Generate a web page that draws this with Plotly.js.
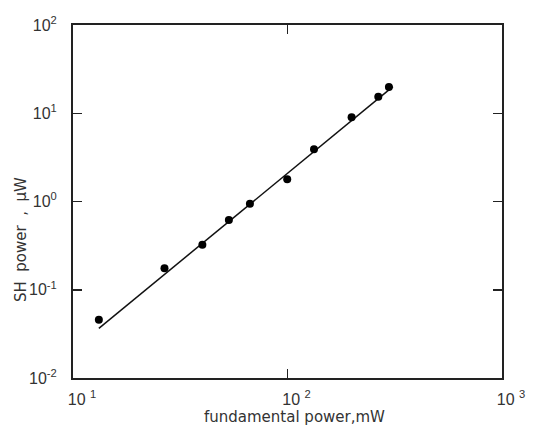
<!DOCTYPE html>
<html>
<head>
<meta charset="utf-8">
<script src="https://cdn.plot.ly/plotly-3.0.1.min.js"></script>
<style>html,body{margin:0;padding:0;background:#fff;}#chart{width:535px;height:430px;}</style>
</head>
<body>
<div id="chart"></div>
<script>
// Measured data: fundamental power (mW) vs SH power (µW)
const fundPower = [13.2, 26.7, 40.1, 53.3, 66.8, 99.7, 132.9, 199, 265, 297];
const shPower   = [0.0456, 0.175, 0.323, 0.619, 0.94, 1.79, 3.91, 9.0, 15.4, 19.9];
// Fitted line (quadratic dependence) endpoints
const fitX = [13.2, 310];
const fitY = [0.0365, 20.0];
// Tick labels
const xTickVals = [10, 100, 1000];
const xTickText = ['10 <sup>1</sup>', '10 <sup>2</sup>', '10 <sup>3</sup>'];
const yTickVals = [0.01, 0.1, 1, 10, 100];
const yTickText = ['10<sup>-2</sup>', '10<sup>-1</sup>', '10<sup>0</sup>', '10<sup>1</sup>', '10<sup>2</sup>'];

const textColor = '#333';
const tickFont = {family: 'Liberation Sans, Arial, sans-serif', size: 16, color: textColor};
const titleFont = {family: 'DejaVu Sans, sans-serif', size: 15, color: textColor};
const traces = [
  {x: fitX, y: fitY, mode: 'lines', line: {color: '#111', width: 1.5}, hoverinfo: 'skip'},
  {x: fundPower, y: shPower, mode: 'markers', marker: {color: '#000', size: 8}}
];
const axisCommon = {
  type: 'log', showgrid: false, zeroline: false, showline: true, linecolor: '#222', linewidth: 2,
  mirror: 'ticks', ticks: 'inside', ticklen: 9, tickwidth: 1.5, tickcolor: '#222',
  tickmode: 'array', tickfont: tickFont
};
const layout = {
  width: 535, height: 430, showlegend: false,
  paper_bgcolor: '#fff', plot_bgcolor: '#fff',
  margin: {l: 73, r: 33, t: 25, b: 52},
  xaxis: Object.assign({}, axisCommon, {
    range: [1, 3], tickvals: xTickVals, ticktext: xTickText, ticklabelstandoff: 6, ticklabelshift: 9
  }),
  yaxis: Object.assign({}, axisCommon, {
    range: [-2, 2], tickvals: yTickVals, ticktext: yTickText, ticklabelstandoff: 11
  }),
  annotations: [{
    text: 'SH\u00a0\u00a0power\u00a0\u00a0,\u00a0\u00a0μW', xref: 'paper', yref: 'paper', x: -0.121, y: 0.391,
    textangle: -90, showarrow: false, xanchor: 'center', yanchor: 'middle',
    font: titleFont
  }, {
    text: 'fundamental power,mW', xref: 'paper', yref: 'paper', x: 0.516, y: -0.111,
    showarrow: false, xanchor: 'center', yanchor: 'middle', font: titleFont
  }]
};
Plotly.newPlot('chart', traces, layout, {displayModeBar: false, staticPlot: true});
</script>
</body>
</html>
